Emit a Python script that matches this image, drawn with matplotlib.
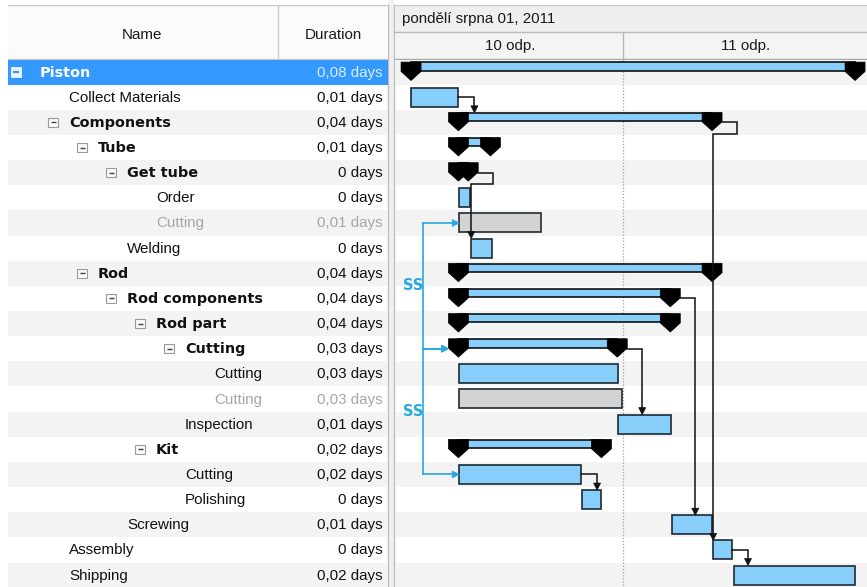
import matplotlib
matplotlib.use("Agg")
import matplotlib.pyplot as plt
from matplotlib.patches import Rectangle, Polygon

plt.rcParams['font.family'] = ['Liberation Sans', 'DejaVu Sans']

# ---------------- data ----------------
names = ["Piston", "Collect Materials", "Components", "Tube", "Get tube", "Order",
         "Cutting", "Welding", "Rod", "Rod components", "Rod part", "Cutting",
         "Cutting", "Cutting", "Inspection", "Kit", "Cutting", "Polishing",
         "Screwing", "Assembly", "Shipping"]
levels = [0, 1, 1, 2, 3, 4, 4, 3, 2, 3, 4, 5, 6, 6, 5, 4, 5, 5, 3, 1, 1]
durations = ["0,08 days", "0,01 days", "0,04 days", "0,01 days", "0 days", "0 days",
             "0,01 days", "0 days", "0,04 days", "0,04 days", "0,04 days", "0,03 days",
             "0,03 days", "0,03 days", "0,01 days", "0,02 days", "0,02 days", "0 days",
             "0,01 days", "0 days", "0,02 days"]
kinds = ["summary", "task", "summary", "summary", "summary", "task", "ghost", "task",
         "summary", "summary", "summary", "summary", "task", "ghost", "task", "summary",
         "task", "task", "task", "task", "task"]
# minutes after 22:00
starts = [3.6, 3.7, 16.2, 16.2, 16.2, 16.4, 16.4, 19.6, 16.2, 16.2, 16.2, 16.2,
          16.4, 16.4, 58.7, 16.2, 16.4, 49.1, 73.0, 83.9, 89.5]
ends = [121.6, 16.2, 83.6, 24.7, 18.8, 19.4, 38.2, 25.0, 83.6, 72.5, 72.5, 58.4,
        58.7, 59.7, 72.8, 54.2, 48.8, 54.2, 83.6, 88.9, 121.6]
fs_links = [(1, 2), (4, 7), (2, 19), (9, 18), (11, 14), (16, 17), (19, 20)]
ss_links = [(6, 11), (11, 16)]
date_label = "pondělí srpna 01, 2011"
hour_labels = ["10 odp.", "11 odp."]
hour_starts = [0, 60]
selected_row = 0

# ---------------- layout / style ----------------
W, H = 867, 587
PPM = 226 / 60.0          # pixels per minute
RH = 25.15                # row height in px
TOP = 59.5                # y of first row (px)
HEAD_TOP = 5
TBL_L, TBL_R = 8, 388
CH_L, CH_R = 394, 867
ORIGIN_PX = 397           # x of 22:00
FS = 10.9
FSB = 10.4
BOLD_FAMILY = ['DejaVu Sans']

BLUE = '#87cefa'
GHOST = '#d3d3d3'
EDGE = '#1f2a33'
LINK = '#111111'
SSC = '#27a8e0'
ALT = '#f3f3f3'
SEL = '#3399ff'
BORDER = '#c9c9c9'

fig = plt.figure(figsize=(W / 100, H / 100), dpi=100)
fig.patch.set_facecolor('white')


def fig_rect(x0, y0, x1, y1):
    return [x0 / W, (H - y1) / H, (x1 - x0) / W, (y1 - y0) / H]


n_vis = (H - TOP) / RH

# UI background axes (pixel coordinates)
ui = fig.add_axes([0, 0, 1, 1], zorder=0)
ui.set_xlim(0, W)
ui.set_ylim(H, 0)
ui.set_axis_off()
ui.add_patch(Rectangle((TBL_R, 0), CH_L - TBL_R, H, facecolor='#f0f0f0', edgecolor='none'))
ui.plot([TBL_R, TBL_R], [HEAD_TOP, H], color='#bdbdbd', lw=1)
ui.plot([CH_L, CH_L], [HEAD_TOP, H], color='#bdbdbd', lw=1)

# ---------------- table header ----------------
th = fig.add_axes(fig_rect(TBL_L, HEAD_TOP, TBL_R, TOP), zorder=1)
th.set_xlim(TBL_L, TBL_R)
th.set_ylim(1, 0)
th.set_axis_off()
col_div = 278
th.add_patch(Rectangle((TBL_L, 0), TBL_R - TBL_L, 1, facecolor='#fbfbfb', edgecolor='none'))
th.plot([TBL_L, TBL_R], [0.003, 0.003], color=BORDER, lw=1)
th.plot([TBL_L, TBL_R], [0.995, 0.995], color=BORDER, lw=1)
th.plot([col_div, col_div], [0, 1], color=BORDER, lw=1)
th.text((TBL_L + col_div) / 2 - 1, 0.55, "Name", ha='center', va='center', fontsize=FS, color='#1a1a1a')
th.text((col_div + TBL_R) / 2, 0.55, "Duration", ha='center', va='center', fontsize=FS, color='#1a1a1a')

# ---------------- table rows ----------------
tb = fig.add_axes(fig_rect(TBL_L, TOP, TBL_R, H), zorder=1)
tb.set_xlim(TBL_L, TBL_R)
tb.set_ylim(-0.5 + n_vis, -0.5)
tb.set_axis_off()
for i in range(len(names)):
    if i == selected_row:
        tb.add_patch(Rectangle((TBL_L, i - 0.5), TBL_R - TBL_L, 1, facecolor=SEL, edgecolor='none'))
    elif i % 2 == 0:
        tb.add_patch(Rectangle((TBL_L, i - 0.5), TBL_R - TBL_L, 1, facecolor=ALT, edgecolor='none'))
    bold = kinds[i] == 'summary'
    if i == selected_row:
        col = 'white'
    elif kinds[i] == 'ghost':
        col = '#a6a6a6'
    else:
        col = '#111111'
    tx = 40 + 29 * levels[i]
    if bold:
        tb.text(tx, i + 0.02, names[i], ha='left', va='center', fontsize=FSB,
                fontweight='bold', family=BOLD_FAMILY, color=col)
    else:
        tb.text(tx, i + 0.02, names[i], ha='left', va='center', fontsize=FS, color=col)
    tb.text(383, i + 0.02, durations[i], ha='right', va='center', fontsize=FS,
            color=('#dcecff' if i == selected_row else col))
    if bold:
        gx = 16 if levels[i] == 0 else 24 + 29 * levels[i]
        s = 9.5
        if i == selected_row:
            tb.add_patch(Rectangle((gx - s / 2, i - s / 2 / RH), s, s / RH,
                                   facecolor='#eef4fb', edgecolor='#eef4fb', lw=0.6))
            tb.plot([gx - 2.8, gx + 2.8], [i, i], color=SEL, lw=1.6, solid_capstyle='butt')
        else:
            tb.add_patch(Rectangle((gx - s / 2, i - s / 2 / RH), s, s / RH,
                                   facecolor='#fafafa', edgecolor='#9a9a9a', lw=0.8))
            tb.plot([gx - 2.5, gx + 2.5], [i, i], color='#404040', lw=1.0, solid_capstyle='butt')

# ---------------- gantt ----------------
xmin = (CH_L - ORIGIN_PX) / PPM
xmax = (CH_R - ORIGIN_PX) / PPM
gx_ax = fig.add_axes(fig_rect(CH_L + 0.5, TOP, CH_R, H), zorder=2)
gx_ax.set_xlim(xmin, xmax)
gx_ax.set_ylim(-0.5 + n_vis, -0.5)
gx_ax.set_axis_off()

hd = fig.add_axes(fig_rect(CH_L + 0.5, HEAD_TOP, CH_R, TOP), zorder=2, sharex=gx_ax)
hd.set_ylim(2, 0)
hd.set_axis_off()
hd.add_patch(Rectangle((xmin, 0), xmax - xmin, 1, facecolor='#efefef', edgecolor='none'))
hd.add_patch(Rectangle((xmin, 1), xmax - xmin, 1, facecolor='#f4f4f4', edgecolor='none'))
hd.plot([xmin, xmax], [0.01, 0.01], color=BORDER, lw=1)
hd.plot([xmin, xmax], [1, 1], color='#b8b8b8', lw=1)
hd.plot([xmin, xmax], [1.99, 1.99], color='#a8a8a8', lw=1)
hd.text(xmin + 8 / PPM, 0.5, date_label, ha='left', va='center', fontsize=FS, color='#1a1a1a')
bounds = hour_starts + [xmax]
for k, lab in enumerate(hour_labels):
    a, b = max(bounds[k], xmin), bounds[k + 1]
    hd.text((a + b) / 2, 1.5, lab, ha='center', va='center', fontsize=FS, color='#1a1a1a')
    if k > 0:
        hd.plot([hour_starts[k]] * 2, [1, 2], color='#b8b8b8', lw=1)

def dx(px):
    return px / PPM

def dy(px):
    return px / RH

for i in range(len(names)):
    if i % 2 == 0:
        gx_ax.add_patch(Rectangle((xmin, i - 0.5), xmax - xmin, 1, facecolor=ALT,
                                  edgecolor='none', zorder=0))
for h in hour_starts[1:]:
    gx_ax.plot([h, h], [-0.5, n_vis], color='#a0a0a0', lw=0.9, ls=(0, (1, 1.5)), zorder=1)

for i in range(len(names)):
    top = i - 0.5
    if kinds[i] == 'summary':
        gx_ax.add_patch(Rectangle((starts[i], top + dy(3)), ends[i] - starts[i], dy(8.5),
                                  facecolor=BLUE, edgecolor='#111111', lw=1.2, zorder=3))
        hw = dx(10)
        for x in (starts[i], ends[i]):
            gx_ax.add_patch(Polygon([(x - hw, top + dy(2.6)), (x + hw, top + dy(2.6)),
                                     (x + hw, top + dy(12)), (x, top + dy(21)),
                                     (x - hw, top + dy(12))], closed=True,
                                    facecolor='black', edgecolor='black', lw=0.5, zorder=4))
    else:
        fc = GHOST if kinds[i] == 'ghost' else BLUE
        gx_ax.add_patch(Rectangle((starts[i], top + dy(3)), ends[i] - starts[i], dy(19),
                                  facecolor=fc, edgecolor=EDGE, lw=1.2, zorder=3))


def down_arrow(ax, x, ytip, color):
    ax.add_patch(Polygon([(x - dx(3.5), ytip - dy(7)), (x + dx(3.5), ytip - dy(7)), (x, ytip)],
                         closed=True, facecolor=color, edgecolor=color, lw=0.5, zorder=6))


def right_arrow(ax, xtip, y, color):
    ax.add_patch(Polygon([(xtip - dx(7), y - dy(3.5)), (xtip - dx(7), y + dy(3.5)), (xtip, y)],
                         closed=True, facecolor=color, edgecolor=color, lw=0.5, zorder=6))


for p, s in fs_links:
    summ = kinds[p] == 'summary'
    x0 = ends[p] + (dx(10) if summ else 0)
    xt = ends[p] + (dx(25) if summ else dx(16))
    yc = p
    ytop = s - 0.5 + dy(3)
    if starts[s] <= xt <= ends[s]:
        xs = [x0, xt, xt]
        ys = [yc, yc, ytop - dy(6)]
        xa = xt
    else:
        yb = p + 0.5 - dy(1)
        xs = [x0, xt, xt, starts[s], starts[s]]
        ys = [yc, yc, yb, yb, ytop - dy(6)]
        xa = starts[s]
    gx_ax.plot(xs, ys, color=LINK, lw=1.1, zorder=5, solid_joinstyle='miter')
    down_arrow(gx_ax, xa, ytop, LINK)

for a, b in ss_links:
    xl = min(starts[a], starts[b]) - dx(35)
    gx_ax.plot([xl, xl], [a, b], color=SSC, lw=1.2, zorder=5)
    for r in (a, b):
        xtip = starts[r] - (dx(10) if kinds[r] == 'summary' else 0)
        gx_ax.plot([xl, xtip - dx(5)], [r, r], color=SSC, lw=1.2, zorder=5)
        right_arrow(gx_ax, xtip, r, SSC)
    gx_ax.text(xl, (a + b) / 2, "SS", ha='right', va='center', fontsize=10.5,
               fontweight='bold', family=BOLD_FAMILY, color=SSC, zorder=6)

fig.savefig("out.png", dpi=100)
